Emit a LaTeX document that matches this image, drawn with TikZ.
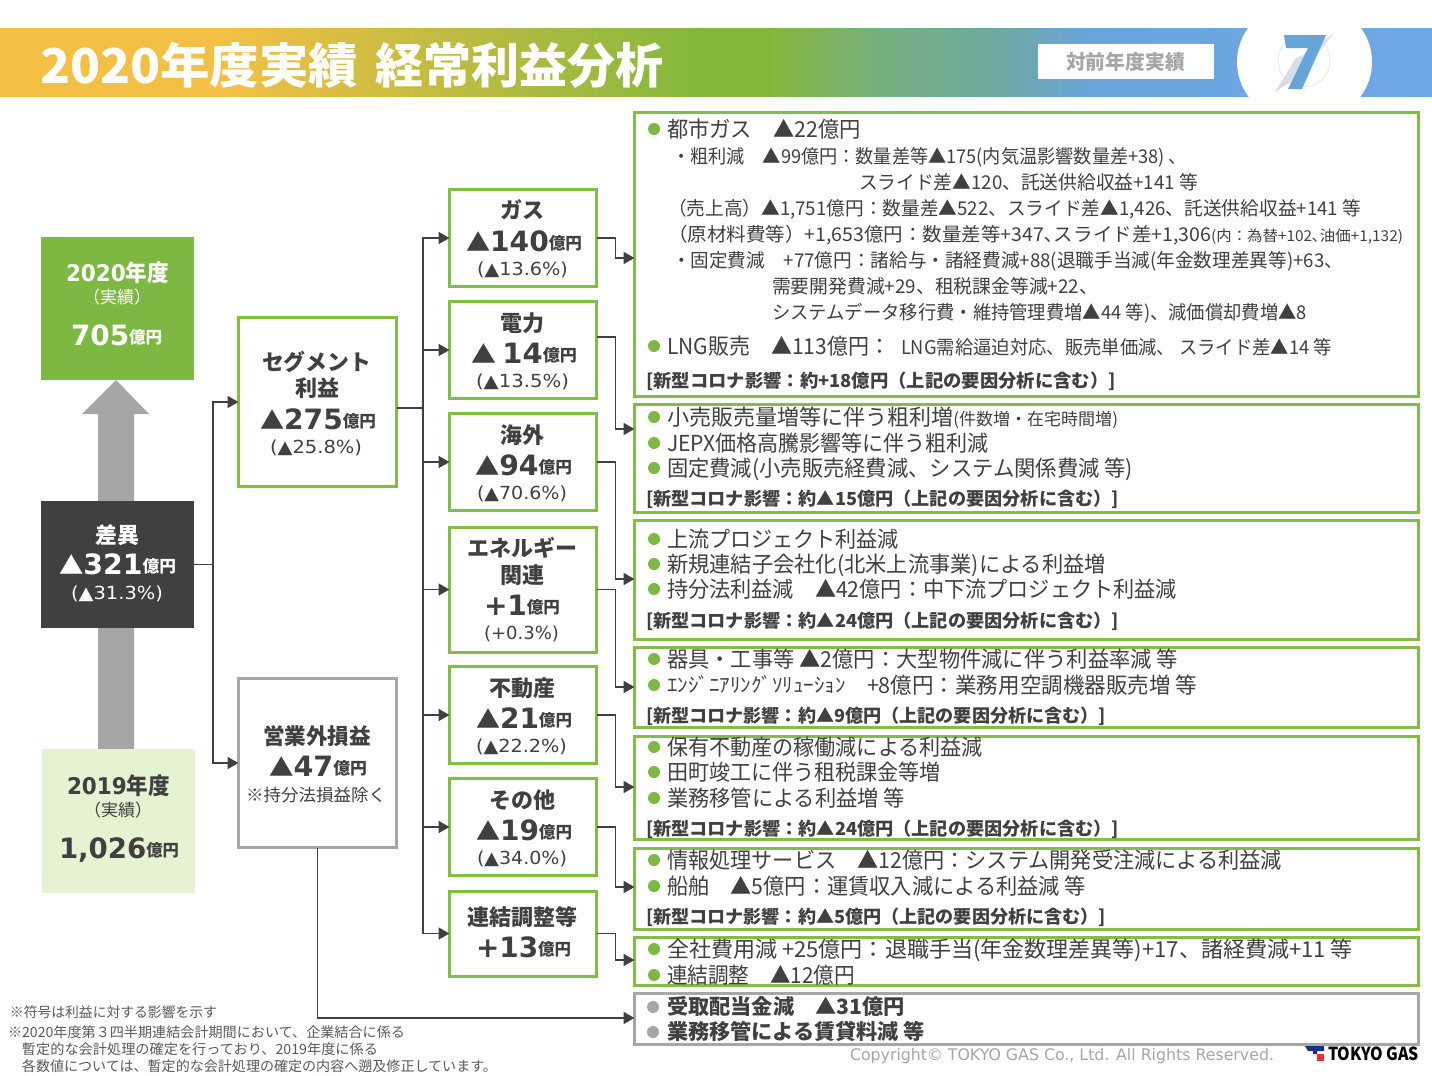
\documentclass[tikz,border=0pt]{standalone}
\usepackage{fontspec}
\setmainfont{Noto Sans CJK JP}
\newfontfamily\vfont{DejaVu Sans}
\usetikzlibrary{arrows.meta,shapes.geometric}
\definecolor{gr}{HTML}{7DB942}
\definecolor{grb}{HTML}{84BD45}
\definecolor{dk}{HTML}{404040}
\definecolor{gy}{HTML}{A6A6A6}
\definecolor{lg}{HTML}{E5F3D3}
\definecolor{ts}{HTML}{595959}
\definecolor{ha}{HTML}{F3BF45}
\definecolor{hd}{HTML}{84B83D}
\definecolor{hf}{HTML}{77B07F}
\definecolor{hg}{HTML}{6FA9A0}
\definecolor{hh}{HTML}{6AA5DC}
\definecolor{hi}{HTML}{70A8E6}
\pgfdeclarehorizontalshading{hdr}{100bp}{
 color(0bp)=(ha); color(33bp)=(ha);
 color(49.4bp)=(hd); color(51.9bp)=(hd);
 color(55.7bp)=(hf); color(59.9bp)=(hg);
 color(63bp)=(hh); color(75bp)=(hi); color(100bp)=(hi)}
\newsavebox\txbox
\newcommand\fitx[2]{\sbox\txbox{#2}\pgfmathsetmacro\txs{#1/\the\wd\txbox}\scalebox{\txs}[1]{\usebox\txbox}}
\newcommand\tx[6]{\node[txt] (#1) at (#2,{#3+0.37*#5}) {\fontsize{#5}{#5}\selectfont\fitx{#4}{#6}};}
\newcommand\en{\raisebox{1.5pt}{\fontsize{16.5}{16.5}\selectfont\bfseries 億円}}
\newcommand\Nn[1]{{\vfont\bfseries #1}}
\newcommand\Tr{{\fontsize{24}{24}\selectfont ▲}}
\newcommand\bul[3]{\fill[#3] (#1,#2) circle (6);}
\tikzset{
 txt/.style={anchor=base west,inner sep=0,outer sep=0,text=dk},
 gbox/.style={draw=grb,line width=3,fill=white,anchor=north west,inner sep=0,outer sep=0},
 gybox/.style={draw=gy,line width=3,fill=white,anchor=north west,inner sep=0,outer sep=0},
 solid box/.style={anchor=north west,inner sep=0,outer sep=0},
 conn/.style={draw=dk,line width=1.7,-{Triangle[length=11,width=12]}}
}
\begin{document}
\begin{tikzpicture}[x=1pt,y=-1pt]
\useasboundingbox (0,0) rectangle (1432,1076);
% header
\shade[shading=hdr] (0,28) rectangle (1432,96.5);
\fill[white] (1304.5,62) ellipse [x radius=67.5,y radius=62];
\draw[color=black!8,line width=1] (1304,60.7) circle (26);
\fill[color=blue!30!gray!22] (1335,32) -- (1310,52) -- (1296,58) -- (1275,92) -- (1299,76) -- cycle;
\fill[color={rgb,255:red,101;green,165;blue,216}] (1284,35) -- (1326,35) -- (1302,89) -- (1288,89) -- (1308,48) -- (1286,48) -- cycle;
\node[solid box,fill=white,minimum width=176,minimum height=35] (tag) at (1038,44) {};
\tx{title}{40}{66}{318}{48}{\color{white}\bfseries 2020年度実績}
\tx{titleb}{375}{66}{288}{48}{\color{white}\bfseries 経常利益分析}
\tx{tagt}{1066}{62}{119}{20}{\color{gy}\bfseries 対前年度実績}
% left arrow
\fill[gy] (98,749) -- (98,414) -- (82,414) -- (116,380) -- (149,414) -- (134,414) -- (134,749) -- cycle;
\node[solid box,fill=gr,minimum width=153,minimum height=143] (y20) at (41,237) {};
\node[solid box,fill=dk,minimum width=153,minimum height=127] (diff) at (41,501) {};
\node[solid box,fill=lg,minimum width=153,minimum height=144] (y19) at (42,749) {};
\tx{a1}{66}{273}{103}{23}{\color{white}\bfseries\Nn{2020}年度}
\tx{a2}{83}{297}{68}{17}{\color{white}（実績）}
\tx{a3}{71}{335}{91}{28}{\color{white}\bfseries\Nn{705}\en}
\tx{b1}{95}{535}{44}{22}{\color{white}\bfseries 差異}
\tx{b2}{59}{564}{117}{28}{\color{white}\bfseries\Tr\Nn{321}\en}
\tx{b3}{71}{593}{92}{18}{\color{white}\vfont (▲31.3\%)}
\tx{c1}{67}{786}{103}{23}{\bfseries\Nn{2019}年度}
\tx{c2}{84}{810}{68}{17}{（実績）}
\tx{c3}{59}{848}{120}{28}{\bfseries\Nn{1,026}\en}
% segment boxes
\node[gbox,minimum width=158,minimum height=169] (seg) at (238.5,317.5) {};
\node[gybox,minimum width=158,minimum height=169] (nonop) at (238.5,678.5) {};
\tx{s1}{262}{362}{109}{22}{\bfseries セグメント}
\tx{s2}{295}{388}{44}{22}{\bfseries 利益}
\tx{s3}{260}{419}{116}{28}{\bfseries\Tr\Nn{275}\en}
\tx{s4}{270}{447}{92}{18}{\vfont (▲25.8\%)}
\tx{n1}{263}{736}{108}{22}{\bfseries 営業外損益}
\tx{n2}{269}{766}{98}{28}{\bfseries\Tr\Nn{47}\en}
\tx{n3}{246}{795}{140}{17}{※持分法損益除く}
% middle boxes
\node[gbox,minimum width=147,minimum height=97] (gas) at (449.5,189.5) {};
\node[gbox,minimum width=147,minimum height=97] (elec) at (449.5,301.5) {};
\node[gbox,minimum width=147,minimum height=97] (ovs) at (449.5,413.5) {};
\node[gbox,minimum width=147,minimum height=125] (ene) at (449.5,527) {};
\node[gbox,minimum width=147,minimum height=97] (re) at (449.5,666.5) {};
\node[gbox,minimum width=147,minimum height=97] (oth) at (449.5,778.5) {};
\node[gbox,minimum width=147,minimum height=85] (adj) at (449.5,891) {};
\tx{g1}{500}{210}{44}{22}{\bfseries ガス}
\tx{g2}{466}{241}{116}{28}{\bfseries\Tr\Nn{140}\en}
\tx{g3}{477}{269}{91}{18}{\vfont (▲13.6\%)}
\tx{e1}{500}{323}{44}{22}{\bfseries 電力}
\tx{e2}{471}{353}{106}{28}{\bfseries\Tr\ \Nn{14}\en}
\tx{e3}{476}{381}{93}{18}{\vfont (▲13.5\%)}
\tx{o1}{500}{435}{44}{22}{\bfseries 海外}
\tx{o2}{475}{465}{97}{28}{\bfseries\Tr\Nn{94}\en}
\tx{o3}{477}{493}{90}{18}{\vfont (▲70.6\%)}
\tx{h1}{467}{548}{110}{22}{\bfseries エネルギー}
\tx{h2}{500}{575}{44}{22}{\bfseries 関連}
\tx{h3}{484}{605}{76}{28}{\bfseries\Nn{+1}\en}
\tx{h4}{484}{633}{75}{18}{\vfont (+0.3\%)}
\tx{r1}{489}{688}{66}{22}{\bfseries 不動産}
\tx{r2}{476}{718}{96}{28}{\bfseries\Tr\Nn{21}\en}
\tx{r3}{476}{746}{91}{18}{\vfont (▲22.2\%)}
\tx{t1}{489}{800}{66}{22}{\bfseries その他}
\tx{t2}{476}{830}{96}{28}{\bfseries\Tr\Nn{19}\en}
\tx{t3}{477}{858}{90}{18}{\vfont (▲34.0\%)}
\tx{j1}{467}{917}{110}{22}{\bfseries 連結調整等}
\tx{j2}{476}{947}{95}{28}{\bfseries\Nn{+13}\en}
% detail boxes
\node[gbox,minimum width=784,minimum height=284] (d1) at (634.5,112) {};
\node[gbox,minimum width=784,minimum height=108] (d2) at (634.5,404) {};
\node[gbox,minimum width=784,minimum height=119] (d3) at (634.5,520) {};
\node[gbox,minimum width=784,minimum height=80] (d4) at (634.5,647) {};
\node[gbox,minimum width=784,minimum height=103] (d5) at (634.5,736) {};
\node[gbox,minimum width=784,minimum height=81] (d6) at (634.5,848) {};
\node[gbox,minimum width=784,minimum height=48] (d7) at (634.5,937) {};
\node[gybox,minimum width=784,minimum height=51] (d8) at (634.5,993) {};
% d1
\bul{654}{129}{gr}
\tx{k1}{667}{129}{194}{22}{都市ガス　▲22億円}
\tx{k2}{672}{156}{515}{19}{・粗利減　▲99億円：数量差等▲175(内気温影響数量差+38) 、}
\tx{k3}{859}{182}{339}{19}{スライド差▲120、託送供給収益+141 等}
\tx{k4}{668}{208}{693}{19}{（売上高）▲1,751億円：数量差▲522、スライド差▲1,426、託送供給収益+141 等}
\tx{k5}{668}{234}{735}{19}{（原材料費等）+1,653億円：数量差等+347､スライド差+1,306{\fontsize{15}{15}\selectfont(内：為替+102､油価+1,132)}}
\tx{k6}{672}{260}{671}{19}{・固定費減　+77億円：諸給与・諸経費減+88(退職手当減(年金数理差異等)+63、}
\tx{k7}{772}{286}{326}{19}{需要開発費減+29、租税課金等減+22、}
\tx{k8}{772}{312}{535}{19}{システムデータ移行費・維持管理費増▲44 等)、減価償却費増▲8}
\bul{654}{346}{gr}
\tx{k9}{667}{346}{223}{22}{LNG販売　▲113億円：}
\tx{k10}{901}{347}{431}{19}{LNG需給逼迫対応、販売単価減、 スライド差▲14 等}
\tx{k11}{646}{381}{470}{18}{\bfseries [新型コロナ影響：約+18億円（上記の要因分析に含む）]}
% d2
\bul{654}{417}{gr}\bul{654}{443}{gr}\bul{654}{468}{gr}
\tx{m1}{667}{417}{451}{22}{小売販売量増等に伴う粗利増{\fontsize{17}{17}\selectfont(件数増・在宅時間増)}}
\tx{m2}{667}{443}{322}{22}{JEPX価格高騰影響等に伴う粗利減}
\tx{m3}{667}{468}{466}{22}{固定費減(小売販売経費減、システム関係費減 等)}
\tx{m4}{646}{499}{473}{18}{\bfseries [新型コロナ影響：約▲15億円（上記の要因分析に含む）]}
% d3
\bul{654}{539}{gr}\bul{654}{564}{gr}\bul{654}{589}{gr}
\tx{p1}{667}{539}{232}{22}{上流プロジェクト利益減}
\tx{p2}{667}{564}{439}{22}{新規連結子会社化(北米上流事業)による利益増}
\tx{p3}{667}{589}{510}{22}{持分法利益減　▲42億円：中下流プロジェクト利益減}
\tx{p4}{646}{621}{473}{18}{\bfseries [新型コロナ影響：約▲24億円（上記の要因分析に含む）]}
% d4
\bul{654}{659}{gr}\bul{654}{685}{gr}
\tx{q1}{667}{659}{511}{22}{器具・工事等 ▲2億円：大型物件減に伴う利益率減 等}
\tx{q2}{667}{685}{179}{20}{ｴﾝｼﾞﾆｱﾘﾝｸﾞｿﾘｭｰｼｮﾝ}
\tx{q3}{867}{685}{330}{22}{+8億円：業務用空調機器販売増 等}
\tx{q4}{646}{716}{460}{18}{\bfseries [新型コロナ影響：約▲9億円（上記の要因分析に含む）]}
% d5
\bul{654}{747}{gr}\bul{654}{772}{gr}\bul{654}{798}{gr}
\tx{u1}{667}{747}{316}{22}{保有不動産の稼働減による利益減}
\tx{u2}{667}{772}{274}{22}{田町竣工に伴う租税課金等増}
\tx{u3}{667}{798}{238}{22}{業務移管による利益増 等}
\tx{u4}{646}{829}{473}{18}{\bfseries [新型コロナ影響：約▲24億円（上記の要因分析に含む）]}
% d6
\bul{654}{860}{gr}\bul{654}{886}{gr}
\tx{v1}{667}{860}{615}{22}{情報処理サービス　▲12億円：システム開発受注減による利益減}
\tx{v2}{667}{886}{419}{22}{船舶　▲5億円：運賃収入減による利益減 等}
\tx{v3}{646}{917}{460}{18}{\bfseries [新型コロナ影響：約▲5億円（上記の要因分析に含む）]}
% d7
\bul{654}{949}{gr}\bul{654}{975}{gr}
\tx{w1}{667}{949}{686}{22}{全社費用減 +25億円：退職手当(年金数理差異等)+17、諸経費減+11 等}
\tx{w2}{667}{975}{188}{22}{連結調整　▲12億円}
% d8
\bul{653}{1007}{gy}\bul{653}{1032}{gy}
\tx{x1}{667}{1007}{238}{21}{\bfseries 受取配当金減　▲31億円}
\tx{x2}{667}{1032}{258}{21}{\bfseries 業務移管による賃貸料減 等}
% connectors
\draw[conn] (diff.east) -- ++(19,0) |- (seg.west);
\draw[conn] (diff.east) -- ++(19,0) |- (nonop.west);
\coordinate (segout) at (397,408);
\foreach \m in {gas,elec,ovs,ene,re,oth,adj}{
 \draw[conn] (segout) -- ++(26,0) |- (\m.west);
}
\draw[conn] (gas.east) -- ++(19,0) |- (d1.west |- 0,258);
\draw[conn] (elec.east |- 0,337) -- ++(19,0) |- (d2.west |- 0,429);
\draw[conn] (ovs.east) -- ++(19,0) |- (d3.west |- 0,579);
\draw[conn] (ene.east) -- ++(19,0) |- (d4.west |- 0,687);
\draw[conn] (re.east) -- ++(19,0) |- (d5.west |- 0,787);
\draw[conn] (oth.east) -- ++(19,0) |- (d6.west |- 0,887);
\draw[conn] (adj.east) -- ++(19,0) |- (d7.west |- 0,960);
\draw[conn] (nonop.south) |- (d8.west |- 0,1018);
% footnotes
\tx{f1}{10}{1012}{207}{14}{\color{ts}※符号は利益に対する影響を示す}
\tx{f2}{8}{1032}{397}{14}{\color{ts}※2020年度第３四半期連結会計期間において、企業結合に係る}
\tx{f3}{22}{1049}{356}{14}{\color{ts}暫定的な会計処理の確定を行っており、2019年度に係る}
\tx{f4}{22}{1066}{475}{14}{\color{ts}各数値については、暫定的な会計処理の確定の内容へ遡及修正しています。}
\tx{cr}{850}{1055}{424}{16}{\color{gy}\vfont Copyright© TOKYO GAS Co., Ltd. All Rights Reserved.}
% logo
\fill[color={rgb,255:red,20;green,50;blue,140}] (1305,1046) -- (1324,1046) -- (1324,1051) -- (1317,1051) -- (1317,1054) -- (1313,1054) -- (1313,1051) -- (1308,1051) -- cycle;
\fill[color={rgb,255:red,230;green,50;blue,50}] (1317,1054) rectangle (1324,1061);
\tx{lg}{1328}{1054}{91}{18}{\color{black}\bfseries TOKYO GAS}
\end{tikzpicture}
\end{document}
